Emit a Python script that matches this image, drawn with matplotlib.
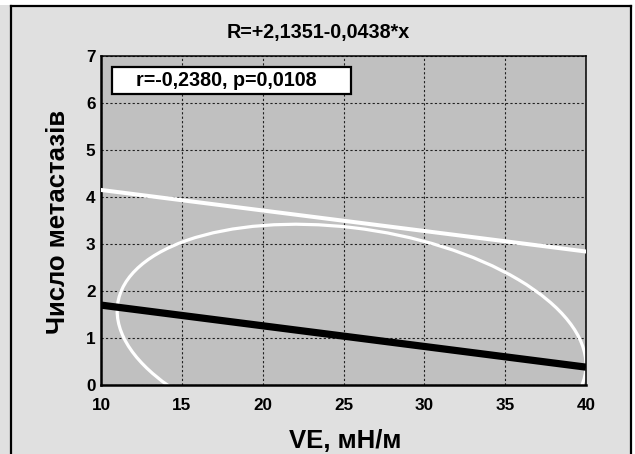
import numpy as np
import matplotlib
matplotlib.use("Agg")
import matplotlib.pyplot as plt
from matplotlib.patches import Ellipse, Rectangle
from matplotlib.lines import Line2D

plt.rcParams['font.family'] = ['Liberation Sans', 'DejaVu Sans']
plt.rcParams['font.weight'] = 'bold'

# Values
title = "R=+2,1351-0,0438*x"
stats_text = "r=-0,2380, p=0,0108"
x_label = "VE, мН/м"
y_label = "Число метастазів"

x_ticks = [10, 15, 20, 25, 30, 35, 40]
y_ticks = [0, 1, 2, 3, 4, 5, 6, 7]

line_x = [10, 40]
regression_y = [1.70, 0.38]   # black thick line
upper_y = [4.15, 2.84]        # white line

# confidence ellipse: centre, spread along x and y, correlation
ellipse_center = (25.5, 1.0)
ellipse_sx = 14.5
ellipse_sy = 2.42
ellipse_r = -0.238

W, H = 635, 454
fig = plt.figure(figsize=(W / 100, H / 100), dpi=100)
fig.patch.set_facecolor('#E0E0E0')

# white strips at the top and right, and the black frame
fig.patches.append(Rectangle((0, 1 - 5 / H), 1, 5 / H, transform=fig.transFigure,
                             facecolor='white', edgecolor='none', zorder=0))
fig.patches.append(Rectangle((632 / W, 0), 3 / W, 1, transform=fig.transFigure,
                             facecolor='white', edgecolor='none', zorder=0))
frame_kw = dict(transform=fig.transFigure, color='black', linewidth=1.6)
fig.lines.append(Line2D([11 / W, 631 / W], [1 - 6 / H, 1 - 6 / H], **frame_kw))
fig.lines.append(Line2D([11 / W, 11 / W], [0, 1 - 6 / H], **frame_kw))
fig.lines.append(Line2D([631 / W, 631 / W], [0, 1 - 6 / H], **frame_kw))

ax = fig.add_axes([101 / W, 1 - 385 / H, 485 / W, 329 / H])
ax.set_facecolor('#C0C0C0')
ax.set_xlim(10, 40)
ax.set_ylim(0, 7)
ax.set_xticks(x_ticks)
ax.set_yticks(y_ticks)
ax.tick_params(axis='both', length=0, labelsize=12.3)
ax.tick_params(axis='x', pad=9)
ax.tick_params(axis='y', pad=4)
ax.set_axisbelow(True)
ax.grid(True, color='#202020', linestyle=(0, (2, 2)), linewidth=0.8)
for side in ['left', 'bottom']:
    ax.spines[side].set_linewidth(1.8)
for side in ['top', 'right']:
    ax.spines[side].set_linewidth(1.1)

# ellipse from covariance
cov = np.array([[ellipse_sx ** 2, ellipse_r * ellipse_sx * ellipse_sy],
                [ellipse_r * ellipse_sx * ellipse_sy, ellipse_sy ** 2]])
vals, vecs = np.linalg.eigh(cov)
angle = np.degrees(np.arctan2(vecs[1, 1], vecs[0, 1]))
ell = Ellipse(ellipse_center, 2 * np.sqrt(vals[1]), 2 * np.sqrt(vals[0]), angle=angle,
              facecolor='none', edgecolor='white', linewidth=2.3, zorder=2)
ax.add_patch(ell)

ax.plot(line_x, upper_y, color='white', linewidth=2.9, zorder=3)
ax.plot(line_x, regression_y, color='black', linewidth=5.2, zorder=4, solid_capstyle='butt')

# stats box
ax.add_patch(Rectangle((0.0227, 0.8845), 0.4925, 0.082, transform=ax.transAxes,
                       facecolor='white', edgecolor='black', linewidth=1.6, zorder=5))
ax.text(0.258, 0.9255, stats_text, transform=ax.transAxes, ha='center', va='center',
        fontsize=14.2, fontweight='bold', zorder=6)

fig.text(318 / W, 1 - 38 / H, title, ha='center', va='baseline', fontsize=14.2, fontweight='bold')
fig.text(345 / W, 1 - 448 / H, x_label, ha='center', va='baseline', fontsize=18.5, fontweight='bold')
fig.text(65 / W, 1 - 222 / H, y_label, ha='center', va='baseline', rotation=90,
         rotation_mode='anchor', fontsize=18.5, fontweight='bold')

fig.savefig('out.png', dpi=100, facecolor=fig.get_facecolor())
